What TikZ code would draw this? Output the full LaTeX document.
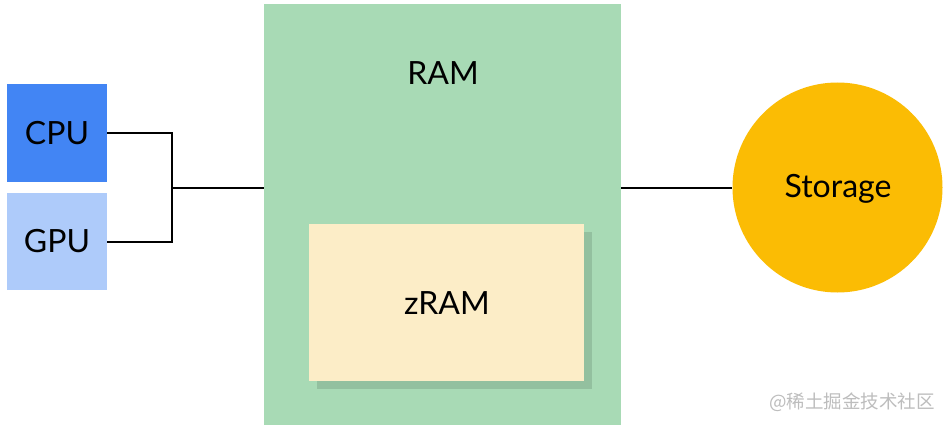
\documentclass[tikz,border=0pt]{standalone}
\usepackage{fontspec}
\setmainfont{Lato}
\newfontfamily\cjkfont{Noto Sans CJK SC}
\definecolor{cpublue}{HTML}{4285F4}
\definecolor{gpublue}{HTML}{AECBFA}
\definecolor{ramgreen}{HTML}{A8DAB5}
\definecolor{zramfill}{HTML}{FCEDC7}
\definecolor{shadowgreen}{HTML}{93C09F}
\definecolor{storyellow}{HTML}{FBBC04}
\definecolor{wmgray}{HTML}{BDBDBD}
\begin{document}
\begin{tikzpicture}[x=1pt,y=-1pt,
  box/.style={rectangle,inner sep=0pt,font=\fontsize{32}{36}\selectfont},
  wire/.style={draw=black,line width=2pt}]
\useasboundingbox (0,0) rectangle (948,428);
\fill[white] (0,0) rectangle (948,428);
% RAM
\node[box,fill=ramgreen,minimum width=357pt,minimum height=421pt] (ram) at (442.5,214.5) {};
\node[box] (ramlabel) at (443,73) {RAM};
% zRAM with shadow
\fill[shadowgreen] (317,232) rectangle (592,389);
\node[box,fill=zramfill,minimum width=275pt,minimum height=157pt] (zram) at (446,302.5) {};
\node[box] (zramlabel) at (447,303) {zRAM};
% CPU / GPU
\node[box,fill=cpublue,minimum width=100pt,minimum height=98pt] (cpu) at (57,133) {CPU};
\node[box,fill=gpublue,minimum width=100pt,minimum height=97pt] (gpu) at (57,241.5) {GPU};
% Storage
\node[box,circle,fill=storyellow,minimum size=210pt] (storage) at (837.5,187.5) {};
\node[box] (storlabel) at (838,189) {Storage};
% connectors
\coordinate (j) at (172,188);
\draw[wire] (cpu.east) -| (j) |- (gpu.east);
\draw[wire] (j) -- (ram.west |- j);
\draw[wire] (ram.east |- storage.west) -- (storage.west);
% watermark
\node[text=wmgray,font=\cjkfont\fontsize{18.5}{21}\selectfont,inner sep=0pt] (wm) at (852,402) {@稀土掘金技术社区};
\end{tikzpicture}
\end{document}
